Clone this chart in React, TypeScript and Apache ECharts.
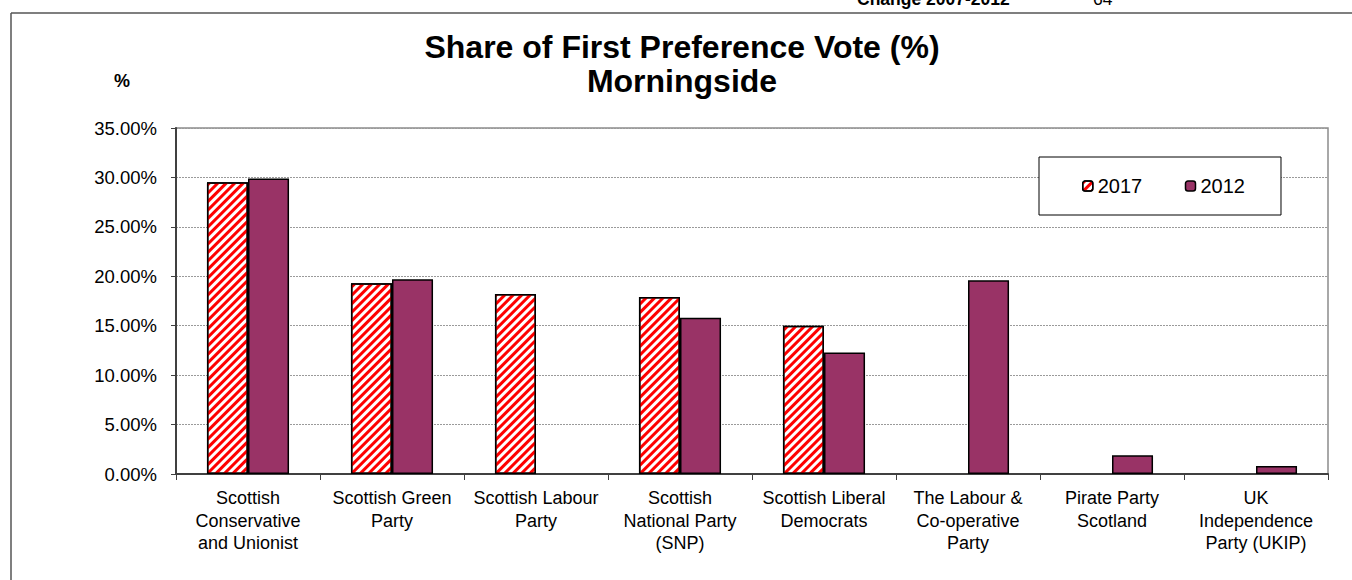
import React, { useEffect, useRef } from "react";
import * as echarts from "echarts";

const categories = [
  "Scottish\nConservative\nand Unionist",
  "Scottish Green\nParty",
  "Scottish Labour\nParty",
  "Scottish\nNational Party\n(SNP)",
  "Scottish Liberal\nDemocrats",
  "The Labour &\nCo-operative\nParty",
  "Pirate Party\nScotland",
  "UK\nIndependence\nParty (UKIP)",
];
const values2017: (number | null)[] = [29.5, 19.3, 18.2, 17.9, 15.0, null, null, null];
const values2012: (number | null)[] = [29.9, 19.7, null, 15.8, 12.3, 19.6, 1.9, 0.8];
const seriesNames = ["2017", "2012"];
const titleLines = ["Share of First Preference Vote (%)", "Morningside"];
const yTicks = { min: 0, max: 35, interval: 5 };

const FONT = "'Liberation Sans', Arial, sans-serif";

export default function App() {
  const ref = useRef<HTMLDivElement>(null);
  useEffect(() => {
    if (!ref.current) return;
    const chart = echarts.init(ref.current, null, { renderer: "svg" });
    chart.setOption({
      animation: false,
      backgroundColor: "#fff",
      textStyle: { fontFamily: FONT },
      grid: {
        left: 176,
        top: 128,
        right: 24,
        bottom: 106,
        show: true,
        borderColor: "#8c8c8c",
        borderWidth: 1.5,
        containLabel: false,
      },
      graphic: [
        {
          type: "line",
          shape: { x1: 11, y1: 13, x2: 1352, y2: 13 },
          style: { stroke: "#7f7f7f", lineWidth: 2 },
        },
        {
          type: "line",
          shape: { x1: 11, y1: 13, x2: 11, y2: 580 },
          style: { stroke: "#555", lineWidth: 1.5 },
        },
        {
          type: "text",
          x: 857,
          y: -1,
          style: {
            text: "Change 2007-2012",
            font: `bold 17.5px ${FONT}`,
            fill: "#000",
            verticalAlign: "middle",
            align: "left",
          },
        },
        {
          type: "text",
          x: 1093,
          y: -1,
          style: {
            text: "64",
            font: `17.5px ${FONT}`,
            fill: "#000",
            verticalAlign: "middle",
            align: "left",
          },
        },
        {
          type: "text",
          x: 682,
          y: 30,
          style: {
            text: titleLines.join("\n"),
            font: `bold 32px ${FONT}`,
            lineHeight: 34,
            fill: "#000",
            align: "center",
            verticalAlign: "top",
          },
        },
        {
          type: "text",
          x: 122,
          y: 81,
          style: {
            text: "%",
            font: `bold 18px ${FONT}`,
            fill: "#000",
            align: "center",
            verticalAlign: "middle",
          },
        },
      ],
      legend: {
        left: 1039,
        top: 157,
        orient: "horizontal",
        padding: [19, 36, 19, 43],
        itemGap: 42.5,
        itemWidth: 10,
        itemHeight: 10,
        borderColor: "#000",
        borderWidth: 1,
        backgroundColor: "#fff",
        textStyle: { fontSize: 20, color: "#000", fontFamily: FONT },
        itemStyle: { borderColor: "#000", borderWidth: 1.5 },
        data: seriesNames,
      },
      xAxis: {
        type: "category",
        data: categories,
        axisLine: { show: true, lineStyle: { color: "#404040", width: 2 } },
        axisTick: { show: true, length: 6, lineStyle: { color: "#404040", width: 1 } },
        axisLabel: {
          interval: 0,
          color: "#000",
          fontSize: 18,
          lineHeight: 22.5,
          margin: 13,
          fontFamily: FONT,
        },
        splitLine: { show: false },
      },
      yAxis: {
        type: "value",
        min: yTicks.min,
        max: yTicks.max,
        interval: yTicks.interval,
        axisLine: { show: true, lineStyle: { color: "#404040", width: 2 } },
        axisTick: { show: true, length: 5, lineStyle: { color: "#404040" } },
        axisLabel: {
          color: "#000",
          fontSize: 18.5,
          margin: 19,
          fontFamily: FONT,
          formatter: (v: number) => v.toFixed(2) + "%",
        },
        splitLine: { show: true, lineStyle: { color: "#9a9a9a", type: [2, 1], width: 1 } },
      },
      series: [
        {
          name: seriesNames[0],
          type: "bar",
          data: values2017,
          barGap: "0%",
          barCategoryGap: "43%",
          itemStyle: {
            color: "#ffffff",
            borderColor: "#000",
            borderWidth: 1.5,
            decal: {
              symbol: "rect",
              symbolSize: 1,
              color: "#ff0000",
              backgroundColor: "#ffffff",
              dashArrayX: [1, 0],
              dashArrayY: [3, 3],
              rotation: -Math.PI / 4,
            },
          },
        },
        {
          name: seriesNames[1],
          type: "bar",
          data: values2012,
          barGap: "0%",
          barCategoryGap: "43%",
          itemStyle: { color: "#993366", borderColor: "#000", borderWidth: 1.5 },
        },
      ],
    });
    return () => chart.dispose();
  }, []);
  return (
    <div
      ref={ref}
      style={{ position: "fixed", left: 0, top: 0, width: 1352, height: 580 }}
    />
  );
}
